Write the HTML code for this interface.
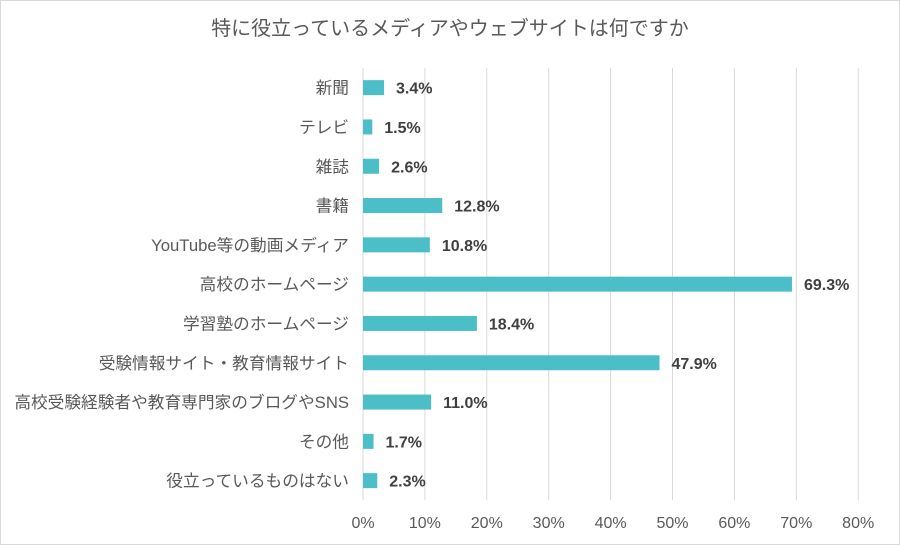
<!DOCTYPE html>
<html><head><meta charset="utf-8"><style>
html,body{margin:0;padding:0;background:#fff}
svg{display:block}
text{font-family:"Liberation Sans","Noto Sans CJK JP",sans-serif}
</style></head><body>
<svg id="chart" width="900" height="545">
<rect x="0.5" y="0.5" width="899" height="544" fill="#fff" stroke="#d9d9d9"/>
<text x="450" y="35" text-anchor="middle" font-size="20" fill="#595959">特に役立っているメディアやウェブサイトは何ですか</text>
<g id="grid"></g><g id="bars"></g><g id="labels"></g>
</svg>
<script>
const categories=["新聞","テレビ","雑誌","書籍","YouTube等の動画メディア","高校のホームページ","学習塾のホームページ","受験情報サイト・教育情報サイト","高校受験経験者や教育専門家のブログやSNS","その他","役立っているものはない"];
const values=[3.4,1.5,2.6,12.8,10.8,69.3,18.4,47.9,11.0,1.7,2.3];
const ticks=[0,10,20,30,40,50,60,70,80];
const NS="http://www.w3.org/2000/svg";
const x0=363,pxPer=6.19,plotTop=68,rowH=39.3;
const xs=v=>x0+v*pxPer;
const ys=i=>plotTop+rowH*(i+0.5);
function mk(tag,attrs,parent,txt){const e=document.createElementNS(NS,tag);for(const k in attrs)e.setAttribute(k,attrs[k]);if(txt!==undefined)e.textContent=txt;parent.appendChild(e);return e;}
const g=document.getElementById('grid'),b=document.getElementById('bars'),l=document.getElementById('labels');
ticks.forEach(t=>{
 const ln=mk('line',{x1:xs(t),x2:xs(t),y1:plotTop,y2:plotTop+rowH*categories.length,stroke:'#d9d9d9','stroke-width':1},g);
 
 
 const tx=mk('text',{x:xs(t),y:528,'text-anchor':'middle','font-size':16,fill:'#595959'},g,t+'%');
 
 
});
categories.forEach((c,i)=>{
 const y=ys(i);
 const r=mk('rect',{x:x0,y:y-7.5,width:xs(values[i])-x0,height:15,fill:'#4bbec8'},b);
 
 
 const cl=mk('text',{x:349,y:y+6,'text-anchor':'end','font-size':16.7,fill:'#595959'},l,c);
 
 
 const vl=mk('text',{x:xs(values[i])+12,y:y+6,'font-size':16,'font-weight':'bold',fill:'#404040'},l,values[i].toFixed(1)+'%');
 
 
});
</script>
</body></html>
